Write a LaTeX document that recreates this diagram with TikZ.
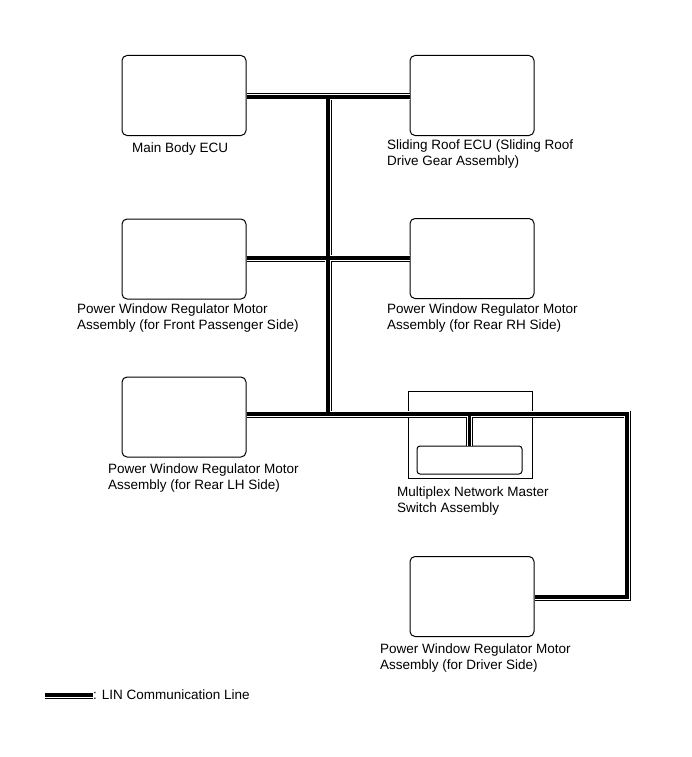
\documentclass[tikz,border=0pt]{standalone}
\usepackage{fontspec}
\setmainfont{Liberation Sans}
\usetikzlibrary{calc}
\tikzset{
  ecu/.style={draw=black, line width=1pt, rounded corners=5pt, minimum width=124pt, minimum height=80pt, inner sep=0pt, fill=white},
  frame/.style={draw=black, line width=0.8pt, inner sep=0pt},
  lbl/.style={anchor=base west, inner sep=0pt, align=left, font=\fontsize{13.5}{16}\selectfont},
  busA/.style={line width=7pt, black, line join=miter, line cap=butt},
  busB/.style={line width=5.2pt, white, line join=miter, line cap=butt},
  busC/.style={line width=3.5pt, black, line join=miter, line cap=butt},
}
\newcommand\buslines[1]{%
  \draw[#1] (mb.east |- t1) -- (sr.west |- t1);
  \draw[#1] (t1) -- (t3);
  \draw[#1] (fp.east |- t2) -- (rh.west |- t2);
  \draw[#1] (lh.east |- t3) -- (c1) -- (c2) -- (dr.east |- c2);
  \draw[#1] (mxi.north) -- (mxi.north |- t3);
  \draw[#1] (lg1) -- (lg2);
}
\begin{document}
\begin{tikzpicture}[x=1pt,y=-1pt]
\useasboundingbox[fill=white] (0,0) rectangle (691,757);
% boxes
\node[ecu] (mb) at (184,95.5) {};
\node[ecu] (sr) at (472,95.5) {};
\node[ecu] (fp) at (184,259) {};
\node[ecu] (rh) at (472,258.5) {};
\node[ecu] (lh) at (184,417) {};
\node[ecu] (dr) at (472,596.5) {};
\node[frame, minimum width=124pt, minimum height=87pt] (mx) at (470,434.5) {};
\node[ecu, minimum width=105pt, minimum height=28pt, rounded corners=3pt] (mxi) at (469.5,460) {};
% bus coordinates
\coordinate (t1) at (328,97);
\coordinate (t2) at (328,258);
\coordinate (t3) at (328,414);
\coordinate (c1) at (627,414);
\coordinate (c2) at (627,597);
\coordinate (lg1) at (45,695);
\coordinate (lg2) at (93,695);
\buslines{busA}
\buslines{busB}
\buslines{busC}
% labels (base = baseline of last line)
\node[lbl] (lmb) at (132,153) {Main Body ECU};
\node[lbl] (lsr) at (387,165) {Sliding Roof ECU (Sliding Roof\\Drive Gear Assembly)};
\node[lbl] (lfp) at (77,329) {Power Window Regulator Motor\\Assembly (for Front Passenger Side)};
\node[lbl] (lrh) at (387,329) {Power Window Regulator Motor\\Assembly (for Rear RH Side)};
\node[lbl] (llh) at (108,489) {Power Window Regulator Motor\\Assembly (for Rear LH Side)};
\node[lbl] (lmx) at (397,512) {Multiplex Network Master\\Switch Assembly};
\node[lbl] (ldr) at (380,669) {Power Window Regulator Motor\\Assembly (for Driver Side)};
\node[lbl, anchor=west] (llg) at (lg2) {: LIN Communication Line};
\end{tikzpicture}
\end{document}
